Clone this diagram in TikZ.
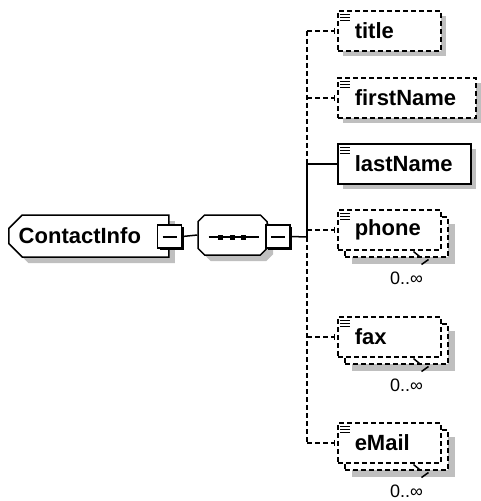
\documentclass[tikz,border=0pt]{standalone}
\usepackage{fontspec}
\setmainfont{Liberation Sans}
\usetikzlibrary{positioning,shapes.misc,shadows,arrows.meta}

\tikzset{
  optline/.style={dash pattern=on 5pt off 3pt},
  greyshadow/.style={opacity=1, fill=black!25, draw=none},
  elem/.style={draw, fill=white, anchor=north west, inner xsep=17pt, inner ysep=0pt,
    minimum height=40pt, align=left, line width=1.5pt,
    font=\bfseries\fontsize{22}{26}\selectfont},
  single/.style={elem, optline, drop shadow={greyshadow, shadow xshift=5pt, shadow yshift=-5pt}},
  multi/.style={elem, optline,
    drop shadow={greyshadow, shadow xshift=14pt, shadow yshift=-14pt},
    copy shadow={opacity=1, draw, fill=white, shadow xshift=7pt, shadow yshift=-7pt}},
  minusbox/.style={draw, fill=white, minimum width=24pt, minimum height=23pt, inner sep=0pt,
    line width=1.5pt, drop shadow={opacity=1, fill=black, draw=none, shadow xshift=2pt, shadow yshift=-2pt}},
  mult/.style={inner sep=0pt, font=\fontsize{18}{20}\selectfont},
  link/.style={line width=1.5pt},
  tick/.style={-{Bar[width=6pt,line width=1.5pt]}, shorten >=2pt}
}

% icona dell'elemento (tre righe)
\newcommand\elemicon[1]{%
  \foreach \dy in {4,7,10}{\draw[line width=1pt] ([shift={(3,\dy)}]#1.north west) -- ++(10,0);}}
% segno della molteplicita'
\newcommand\multmark[1]{%
  \draw[line width=1.5pt] ([shift={(-28,1)}]#1.south east) -- ++(6,5);
  \draw[line width=1.5pt] ([shift={(-20,14)}]#1.south east) -- ++(7,-5);}

\begin{document}
\begin{tikzpicture}[x=1pt,y=-1pt]
  \useasboundingbox (0,0) rectangle (480,501);

  % elemento radice
  \node[chamfered rectangle, chamfered rectangle corners={north west,south west},
    chamfered rectangle xsep=10pt, draw, fill=white, line width=1.5pt,
    text width=140pt, align=left, minimum height=42pt, inner xsep=0pt, anchor=west,
    font=\bfseries\fontsize{22}{26}\selectfont,
    drop shadow={greyshadow, shadow xshift=6pt, shadow yshift=-6pt}]
    (contact) at (8,236) {ContactInfo};
  \node[minusbox] (cimin) at (169.5,236.5) {};
  \draw[line width=2pt] ([xshift=-7pt]cimin.center) -- ([xshift=7pt]cimin.center);

  % sequenza
  \node[chamfered rectangle, chamfered rectangle xsep=10pt, draw, fill=white, line width=1.5pt,
    minimum width=69pt, minimum height=40pt,
    drop shadow={greyshadow, shadow xshift=6pt, shadow yshift=-6pt}]
    (seq) at (232.5,235) {};
  \draw[link] ([xshift=-24pt,yshift=-2pt]seq.center) -- ([xshift=26pt,yshift=-2pt]seq.center);
  \foreach \dx in {-12,0,11}
    \fill ([shift={(\dx-2.5,-0.5)}]seq.center) rectangle ++(5,5);
  \node[minusbox] (seqmin) at (278,236.5) {};
  \draw[line width=2pt] ([xshift=-7pt]seqmin.center) -- ([xshift=7pt]seqmin.center);

  \draw[link] (cimin.east) -- (seq.west);
  \coordinate (bus) at (307,237);
  \draw[link] (seqmin.east) -- (bus);

  % figli
  \node[single, text width=69pt] (title) at (337,10) {title};
  \node[single, text width=104pt] (firstName) at (337,77) {firstName};
  \node[elem, text width=99pt, drop shadow={greyshadow, shadow xshift=5pt, shadow yshift=-5pt}]
    (lastName) at (337,143) {lastName};
  \node[multi, text width=69pt] (phone) at (337,209) {phone};
  \node[multi, text width=69pt] (fax) at (337,316) {fax};
  \node[multi, text width=69pt] (eMail) at (337,422) {eMail};

  \foreach \n in {title,firstName,lastName,phone,fax,eMail} \elemicon{\n};
  \foreach \n in {phone,fax,eMail} {
    \multmark{\n}
    \node[mult] (\n mult) at ([shift={(-35,28)}]\n.south east) {0..∞};
  }

  % linee di collegamento
  \draw[link, optline] (bus |- title.west) -- (bus |- lastName.west);
  \draw[link] (bus |- lastName.west) -- (bus);
  \draw[link, optline] (bus) -- (bus |- eMail.west);
  \draw[link] (bus |- lastName.west) -- (lastName.west);
  \foreach \n in {title,firstName,phone,fax,eMail}
    \draw[link, optline, tick] (bus |- \n.west) -- (\n.west);
\end{tikzpicture}
\end{document}
